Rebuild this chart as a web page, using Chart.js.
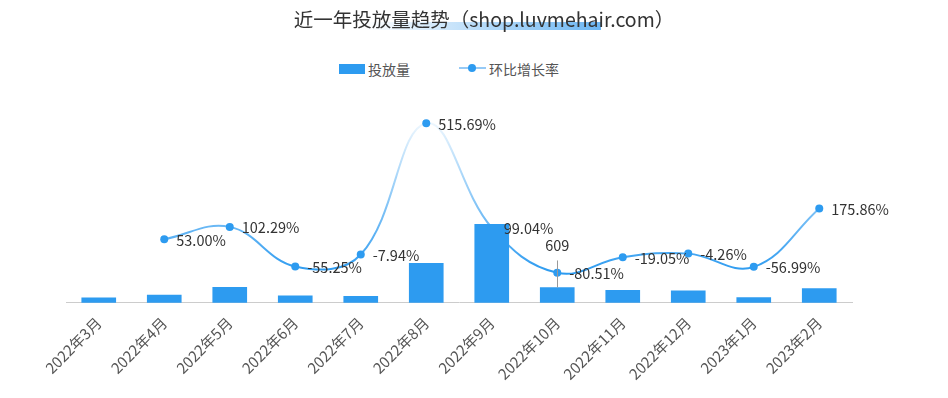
<!DOCTYPE html>
<html>
<head>
<meta charset="utf-8">
<script src="https://cdn.jsdelivr.net/npm/chart.js@4"></script>
<style>
  html, body { margin: 0; padding: 0; background: #fff; }
  #wrap { position: relative; width: 948px; height: 398px; font-family: 'Noto Sans CJK SC', 'Noto Sans', sans-serif; }
  #chart { position: absolute; left: 0; top: 0; }
  .title { position: absolute; left: 4px; width: 960px; top: 6px; text-align: center; font-size: 19.5px; line-height: 26px; color: #333; z-index: 2; }
  .mark { position: absolute; left: 365px; top: 22px; width: 236px; height: 8px; z-index: 1;
          background: linear-gradient(to right, rgba(100,178,242,0), rgba(100,178,242,0.95)); }
  .legend { position: absolute; top: 59px; font-size: 14px; line-height: 20px; color: #555; }
  .legend span { position: absolute; white-space: nowrap; }
</style>
</head>
<body>
<div id="wrap">
  <div class="mark"></div>
  <div class="title">近一年投放量趋势（shop.luvmehair.com）</div>
  <div class="legend" id="legend"></div>
  <canvas id="chart" width="948" height="398"></canvas>
</div>
<script>
const months = ['2022年3月', '2022年4月', '2022年5月', '2022年6月', '2022年7月', '2022年8月',
                '2022年9月', '2022年10月', '2022年11月', '2022年12月', '2023年1月', '2023年2月'];
const volume = [200, 306, 619, 277, 255, 1570, 3125, 609, 493, 472, 203, 560];
const growth = [null, 53.00, 102.29, -55.25, -7.94, 515.69, 99.04, -80.51, -19.05, -4.26, -56.99, 175.86];
const seriesNames = ['投放量', '环比增长率'];
const barLabelIdx = [7];

const BLUE = 'rgb(45,155,240)';
const FONT = '"Noto Sans CJK SC", "Noto Sans", sans-serif';

// legend (html)
const legend = document.getElementById('legend');
legend.innerHTML =
  '<span style="left:339px;top:5px;width:26px;height:10px;background:' + BLUE + '"></span>' +
  '<span style="left:368px;top:0">' + seriesNames[0] + '</span>' +
  '<span style="left:459px;top:8px;width:27px;height:2px;background:rgb(150,202,246)"></span>' +
  '<span style="left:468px;top:5px;width:8px;height:8px;border-radius:50%;background:' + BLUE + '"></span>' +
  '<span style="left:489px;top:0">' + seriesNames[1] + '</span>';

const labelPlugin = {
  id: 'labels',
  afterDatasetsDraw(chart) {
    const ctx = chart.ctx;
    ctx.save();
    ctx.font = '14.5px ' + FONT;
    ctx.fillStyle = '#333';
    ctx.textBaseline = 'middle';
    ctx.textAlign = 'left';
    chart.getDatasetMeta(1).data.forEach((pt, i) => {
      if (growth[i] === null) return;
      ctx.fillText(growth[i].toFixed(2) + '%', pt.x + 12, pt.y + 1);
    });
    const bars = chart.getDatasetMeta(0).data;
    barLabelIdx.forEach(i => {
      const b = bars[i];
      ctx.strokeStyle = '#999';
      ctx.lineWidth = 1;
      ctx.beginPath();
      ctx.moveTo(Math.round(b.x) + 0.5, b.y);
      ctx.lineTo(Math.round(b.x) + 0.5, b.y - 27);
      ctx.stroke();
      ctx.textAlign = 'center';
      ctx.fillText(String(volume[i]), b.x, b.y - 42);
    });
    ctx.restore();
  }
};

function lineGradient(context) {
  const area = context.chart.chartArea;
  if (!area) return BLUE;
  const g = context.chart.ctx.createLinearGradient(0, area.bottom - 30, 0, area.top + 20);
  g.addColorStop(0, 'rgba(45,155,240,1)');
  g.addColorStop(1, 'rgba(45,155,240,0.08)');
  return g;
}

new Chart(document.getElementById('chart'), {
  type: 'bar',
  data: {
    labels: months,
    datasets: [
      {
        type: 'bar',
        label: seriesNames[0],
        data: volume,
        backgroundColor: BLUE,
        barThickness: 34,
        yAxisID: 'y',
        order: 1
      },
      {
        type: 'line',
        label: seriesNames[1],
        data: growth,
        borderColor: lineGradient,
        borderWidth: 2,
        tension: 0.4,
        pointRadius: (c) => {
          const bar = c.chart.getDatasetMeta(0).data[c.dataIndex];
          const pt = c.chart.getDatasetMeta(1).data[c.dataIndex];
          if (bar && pt && pt.y > bar.y && bar.y < bar.base) return 0;
          return 4;
        },
        pointBackgroundColor: BLUE,
        pointBorderWidth: 0,
        yAxisID: 'y1',
        order: 0
      }
    ]
  },
  options: {
    responsive: false,
    animation: false,
    layout: { padding: { left: 66, right: 96, top: 102, bottom: 12 } },
    plugins: {
      legend: { display: false },
      title: { display: false },
      tooltip: { enabled: false }
    },
    scales: {
      x: {
        grid: { display: false },
        border: { color: '#ccc' },
        ticks: {
          minRotation: 45, maxRotation: 45,
          color: '#555',
          font: { size: 15, family: FONT }
        }
      },
      y: { display: false, min: 0, max: 8000 },
      y1: { display: false, min: -200, max: 600 }
    }
  },
  plugins: [labelPlugin]
});
</script>
</body>
</html>
